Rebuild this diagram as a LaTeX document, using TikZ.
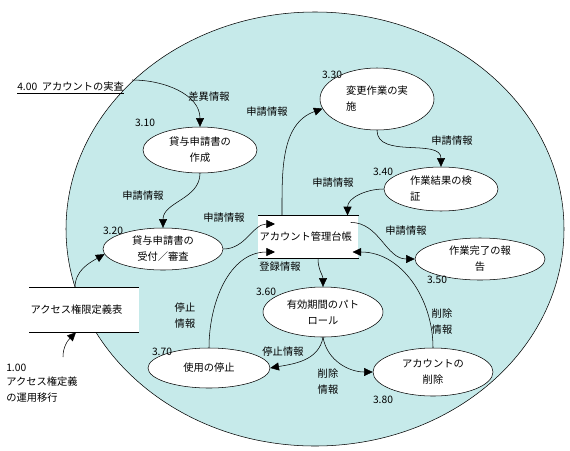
\documentclass[tikz,border=0pt]{standalone}
\usepackage{fontspec}
\setmainfont{Noto Sans CJK JP}
\usetikzlibrary{arrows.meta,positioning,calc,shapes.geometric}
\definecolor{poolcyan}{RGB}{198,234,234}

\begin{document}
\begin{tikzpicture}[
  x=0.75pt,y=-0.75pt,
  font=\fontsize{7.7}{12}\selectfont,
  proc/.style={draw,ellipse,fill=white,inner sep=0pt,align=center},
  store/.style={fill=white,inner sep=1pt,minimum height=32pt,align=left},
  lbl/.style={inner sep=0pt,align=center},
  arr/.style={-{Triangle[length=6.5pt,width=6pt]},thin}
]
\useasboundingbox (0,0) rectangle (570,450);
% outer process boundary
\draw[fill=poolcyan] (315,229) ellipse [x radius=249, y radius=217];

% data stores
\node[store,anchor=west,text width=73pt] (ledger) at (258,237) {アカウント管理台帳};
\draw (ledger.north west) -- (ledger.north east);
\draw (ledger.south west) -- (ledger.south east);
\node[store,anchor=west,text width=80pt,minimum height=33pt] (acl) at (29,310) {アクセス権限定義表};
\draw (acl.north west) -- (acl.north east);
\draw (acl.south west) -- (acl.south east);

% processes
\node[proc,minimum width=85.5pt,minimum height=34.5pt] (p310) at (200,150) {貸与申請書の\\作成};
\node[proc,minimum width=90pt,minimum height=31.5pt] (p320) at (163,249) {貸与申請書の\\受付／審査};
\node[proc,minimum width=85.5pt,minimum height=46.5pt,align=left] (p330) at (377,99) {変更作業の実\\施};
\node[proc,minimum width=85.5pt,minimum height=33pt,align=left] (p340) at (441,189) {作業結果の検\\証};
\node[proc,minimum width=97.5pt,minimum height=31.5pt] (p350) at (480,259) {作業完了の報\\告};
\node[proc,minimum width=90pt,minimum height=37.5pt] (p360) at (323,312) {有効期間のパト\\ロール};
\node[proc,minimum width=91.5pt,minimum height=30pt] (p370) at (209,368) {使用の停止};
\node[proc,minimum width=90pt,minimum height=36pt] (p380) at (433,372) {アカウントの\\削除};

% process numbers
\node[lbl] (n310) at (145,123) {3.10};
\node[lbl] (n320) at (113,231) {3.20};
\node[lbl] (n330) at (332,75) {3.30};
\node[lbl] (n340) at (383,172) {3.40};
\node[lbl] (n350) at (437,280) {3.50};
\node[lbl] (n360) at (266,292) {3.60};
\node[lbl] (n370) at (162,352) {3.70};
\node[lbl] (n380) at (383,400) {3.80};

% external entities
\node[lbl,anchor=west] (t400) at (17,88) {\underline{4.00\ \ アカウントの実査}};
\coordinate (c400) at (132,80);
\node[lbl,anchor=north west,align=left] (t100) at (6,364) {1.00\\[-2pt]アクセス権定義\\の運用移行};
\coordinate (c100) at (63,357);

% flow labels
\node[lbl] (f1) at (209,97) {差異情報};
\node[lbl] (f2) at (143,196) {申請情報};
\node[lbl] (f3) at (224,218) {申請情報};
\node[lbl] (f4) at (267,112) {申請情報};
\node[lbl] (f5) at (452,141) {申請情報};
\node[lbl] (f6) at (333,183) {申請情報};
\node[lbl] (f7) at (406,231) {申請情報};
\node[lbl] (f8) at (280,267) {登録情報};
\node[lbl] (f9) at (185,316) {停止\\情報};
\node[lbl] (f10) at (442,322) {削除\\情報};
\node[lbl] (f11) at (283,352) {停止情報};
\node[lbl] (f12) at (328,382) {削除\\情報};

% flows
\draw[arr] (c400) to[out=0,in=90] (p310.north);
\draw[arr] (p310.south) to[out=-90,in=90] (p320.north);
\draw[arr] (p320.east) to[out=0,in=180] ([shift={(17,-13)}]ledger.west);
\draw[arr] (p370.north) to[out=90,in=180] ([shift={(17,15)}]ledger.west);
\draw[arr] ([shift={(24,0)}]ledger.north west) to[out=90,in=200] (p330.190);
\draw[arr] (p330.south) to[out=-90,in=90] (p340.north);
\draw[arr] (p340.west) to[out=180,in=90] ([shift={(-11,0)}]ledger.north east);
\draw[arr] ([shift={(-8,7)}]ledger.north east) to[out=0,in=180] (p350.west);
\draw[arr] (p380.north) to[out=90,in=0] ([shift={(-6,15)}]ledger.east);
\draw[arr] ([shift={(60,0)}]ledger.south west) to[out=-90,in=90] (p360.north);
\draw[arr] (p360.south) to[out=-100,in=10] (p370.east);
\draw[arr] (p360.south) to[out=-80,in=180] (p380.west);
\draw[arr] ([shift={(46,0)}]acl.north west) to[out=90,in=210] (p320.185);
\draw[arr] (c100) to[out=90,in=225] ([shift={(47,0)}]acl.south west);
\end{tikzpicture}
\end{document}
